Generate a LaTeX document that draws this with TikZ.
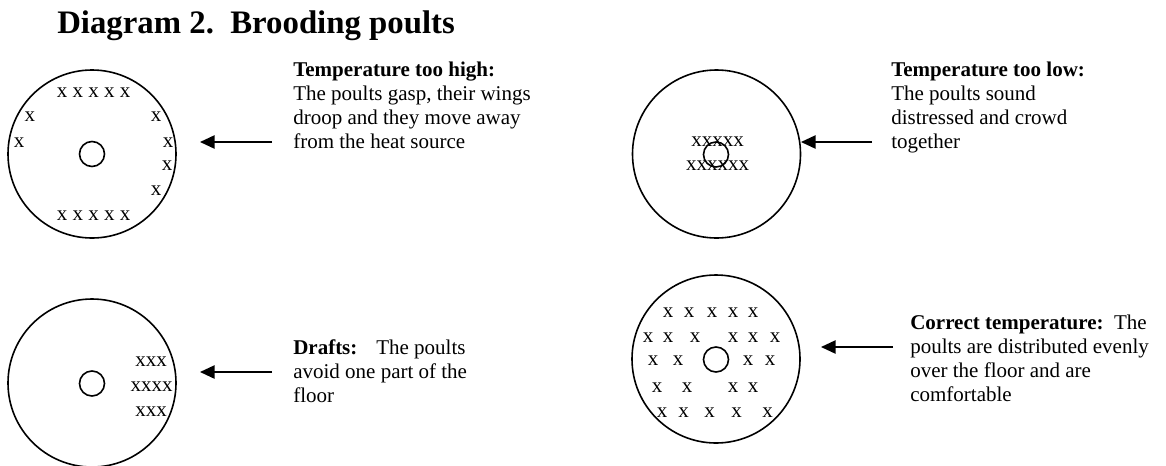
\documentclass[tikz,border=0pt]{standalone}
\usepackage{fontspec}
\setmainfont{Liberation Serif}
\usetikzlibrary{arrows.meta}

\tikzset{
  pen/.style={draw, circle, line width=1.2pt, minimum size=126pt, inner sep=0pt},
  lamp/.style={draw, circle, line width=1.2pt, minimum size=18.75pt, inner sep=0pt},
  poult/.style={inner sep=0pt, font={\fontsize{15.75}{18}\selectfont}},
  note/.style={anchor=base west, inner sep=0pt, align=left,
    font={\fontsize{15.75}{18}\selectfont\lineskiplimit -10pt\relax}},
  pointer/.style={-{Triangle[length=11pt,width=10pt]}, line width=1.2pt},
}

\begin{document}
\begin{tikzpicture}[x=0.75pt,y=0.75pt,yscale=-1,xscale=1]
\useasboundingbox (0,0) rectangle (1166,465);

% Title
\node[anchor=base west, inner sep=0pt, font={\fontsize{24.6}{28}\selectfont\bfseries}] (title) at (57,33) {Diagram 2.\ \ Brooding poults};

%Shape: Circle  (too high)
\node[pen] (penHigh) at (92,154) {};
\node[lamp] (lampHigh) at (92,154) {};
\node[poult] (highTop) at (93.5,93) {x x x x x};
\node[poult] (highBot) at (93.5,216) {x x x x x};
\foreach \px/\py [count=\k] in {30/117, 19/143, 156/117, 168/143, 167/166, 156/191}
  \node[poult] (highX\k) at (\px,\py) {x};

%Shape: Circle  (too low)
\node[pen] (penLow) at (716.5,154) {};
\node[lamp] (lampLow) at (716,154.5) {};
\node[poult] (lowTop) at (717.5,142) {xxxxx};
\node[poult] (lowBot) at (717.5,166) {xxxxxx};

%Shape: Circle  (drafts)
\node[pen] (penDraft) at (92,383) {};
\node[lamp] (lampDraft) at (92,383.5) {};
\node[poult] (draftA) at (151,362) {xxx};
\node[poult] (draftB) at (151.5,387) {xxxx};
\node[poult] (draftC) at (151,412) {xxx};

%Shape: Circle  (correct)
\node[pen] (penOk) at (716,359) {};
\node[lamp] (lampOk) at (716,359.5) {};
\foreach \px/\py [count=\k] in {668/313, 689/313, 712/313, 733/313, 753/313,
    648/338, 668/338, 695/338, 733/338, 753/338, 775/338,
    653/361, 678/361, 748/361, 770/361,
    657/388, 687/388, 733/388, 753/388,
    662/413, 683.5/413, 709.5/413, 736.5/413, 767.5/413}
  \node[poult] (okX\k) at (\px,\py) {x};

%Straight Lines
\coordinate (highTail) at (272,142);
\coordinate (highTip) at (200,142);
\draw[pointer] (highTail) -- (highTip);
\coordinate (lowTail) at (872,142);
\coordinate (lowTip) at (801,142);
\draw[pointer] (lowTail) -- (lowTip);
\coordinate (draftTail) at (272,372);
\coordinate (draftTip) at (200,372);
\draw[pointer] (draftTail) -- (draftTip);
\coordinate (okTail) at (893,347);
\coordinate (okTip) at (821,347);
\draw[pointer] (okTail) -- (okTip);

% Text Node (base = last line)
\node[note] (noteHigh) at (293,148) {\textbf{Temperature too high:}\\The poults gasp, their wings\\droop and they move away\\from the heat source};
% Text Node
\node[note] (noteLow) at (891,148) {\textbf{Temperature too low:}\\The poults sound\\distressed and crowd\\together};
% Text Node
\node[note] (noteDraft) at (293,402) {\textbf{Drafts:}\hspace{0.9em}The poults\\avoid one part of the\\floor};
% Text Node
\node[note] (noteOk) at (910,401) {\textbf{Correct temperature:}\ \ The\\poults are distributed evenly\\over the floor and are\\comfortable};

\end{tikzpicture}
\end{document}
